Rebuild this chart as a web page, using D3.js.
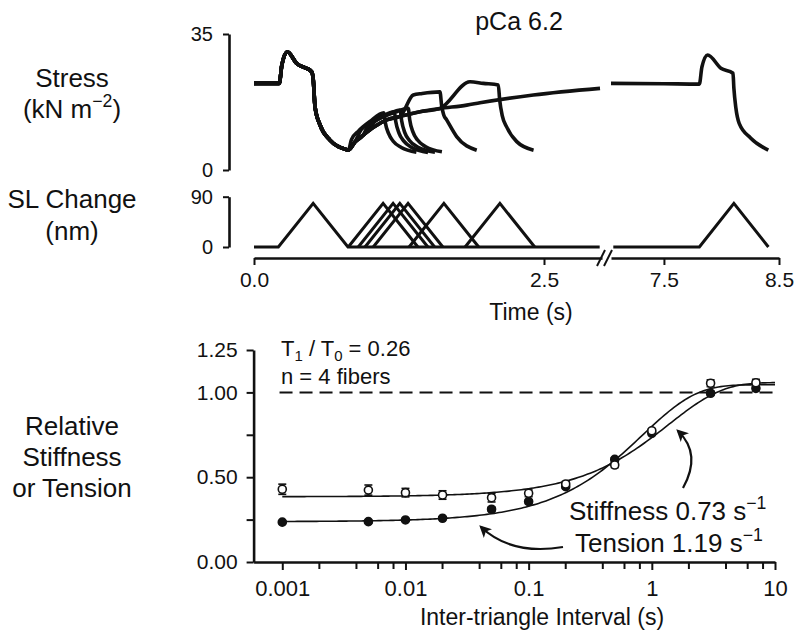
<!DOCTYPE html>
<html>
<head>
<meta charset="utf-8">
<script src="https://cdn.jsdelivr.net/npm/d3@7"></script>
<style>
  body { margin: 0; background: #fff; }
  text { font-family: "Liberation Sans", Arial, sans-serif; fill: #111; }
</style>
</head>
<body>
<div id="chart"></div>
<script>
// ---------- top panel data (time in s, stress in kN m^-2, SL in nm) ----------
const stressBefore = [[0, 22.3], [0.218, 22.3], [0.24, 27], [0.287, 30.4], [0.368, 27.4], [0.497, 25.3],
  [0.511, 23.2], [0.526, 16.3], [0.569, 11.6], [0.655, 7.7], [0.8, 5.2]];
const stressRecovery = [[0.813, 5.1], [0.87, 7.2], [0.942, 9.0], [1.03, 11.0], [1.144, 12.9], [1.259, 13.8],
  [1.431, 15.0], [1.6, 15.8], [1.834, 16.7], [1.948, 17.3], [2.408, 19.3], [2.983, 21.0]];
const stretchStarts = [0.813, 0.899, 0.957, 1.028, 1.337, 1.82];
const stretchResponses = [
  [[0.84, 7.8], [0.9, 10.0], [1.0, 12.5], [1.12, 14.7], [1.132, 12.2], [1.16, 9.4], [1.2, 7.4], [1.27, 5.8], [1.40, 4.6]],
  [[0.925, 10.4], [1.0, 12.0], [1.1, 13.8], [1.21, 15.0], [1.222, 12.5], [1.25, 9.5], [1.29, 7.5], [1.36, 5.8], [1.50, 4.5]],
  [[0.985, 11.5], [1.06, 12.9], [1.16, 14.4], [1.26, 15.4], [1.272, 12.8], [1.30, 9.6], [1.34, 7.6], [1.41, 5.9], [1.56, 4.6]],
  [[1.055, 12.8], [1.13, 13.9], [1.23, 15.0], [1.33, 15.9], [1.342, 13.0], [1.37, 9.8], [1.41, 7.7], [1.48, 6.0], [1.62, 4.7]],
  [[1.373, 19.3], [1.45, 19.7], [1.603, 20.1], [1.618, 16.5], [1.635, 14.2], [1.661, 12.9], [1.747, 8.6], [1.92, 5.1]],
  [[1.862, 22.7], [1.977, 22.3], [2.106, 21.9], [2.118, 18.0], [2.14, 14.0], [2.178, 11.1], [2.265, 7.3], [2.41, 5.1]]
];
const stressLate = [[7.04, 22.3], [7.5, 22.2], [7.808, 22.1], [7.83, 26.5], [7.88, 29.6], [7.995, 26.2], [8.1, 24.9],
  [8.108, 21.0], [8.125, 16.0], [8.154, 12.0], [8.255, 8.2], [8.407, 5.1]];

const slTriangleStarts = [0.21, 0.813, 0.899, 0.957, 1.028, 1.337, 1.82];
const slLateStart = 7.808;
const slPeak = 78;        // nm
const slHalf = 0.3;       // s, stretch (and release) duration

// ---------- bottom panel data ----------
const intervals = [0.001, 0.005, 0.01, 0.02, 0.05, 0.1, 0.2, 0.5, 1, 3, 7];
const stiffness = [0.429, 0.424, 0.409, 0.395, 0.379, 0.405, 0.46, 0.572, 0.774, 1.054, 1.057];
const stiffnessErr = [0.03, 0.03, 0.025, 0.025, 0.025, 0.02, 0.015, 0.015, 0.012, 0.02, 0.02];
const tension = [0.235, 0.238, 0.248, 0.258, 0.311, 0.356, 0.444, 0.605, 0.759, 0.995, 1.024];
const tensionErr = [0.008, 0.008, 0.008, 0.008, 0.012, 0.012, 0.01, 0.01, 0.01, 0.012, 0.015];
// single exponential fits: value = plateau - (plateau - start) * exp(-rate * t)
const fitRates = [0.73, 1.19];           // stiffness, tension (s^-1)
const fitStarts = [0.385, 0.238];
const fitPlateaus = [1.058, 1.045];

const xTickMajor = [0.001, 0.01, 0.1, 1, 10];
const xTickMinor = [2, 4, 6, 8];
const yTicks = [0, 0.25, 0.5, 0.75, 1.0, 1.25];
const yTickLabels = ["0.00", "", "0.50", "", "1.00", "1.25"];

// ---------- svg ----------
const width = 800, height = 639;
const ink = "#111";
const svg = d3.select("#chart").append("svg")
  .attr("width", width)
  .attr("height", height);

const defs = svg.append("defs");
defs.append("marker")
  .attr("id", "head")
  .attr("viewBox", "0 0 10 10")
  .attr("refX", 8).attr("refY", 5)
  .attr("markerWidth", 12).attr("markerHeight", 12)
  .attr("markerUnits", "userSpaceOnUse")
  .attr("orient", "auto")
  .append("path")
  .attr("d", "M0,0 L10,5 L0,10 L2.5,5 Z")
  .attr("fill", ink);

// scales
const tLeft = d3.scaleLinear().domain([0, 3.0]).range([254, 602]);
const tRight = d3.scaleLinear().domain([7.04, 8.5]).range([611, 779]);
const yStress = d3.scaleLinear().domain([0, 35]).range([170, 34]);
const ySL = d3.scaleLinear().domain([0, 90]).range([247, 196.7]);
const xInt = d3.scaleLog().domain([0.000585, 10]).range([253.6, 775]);
const yRel = d3.scaleLinear().domain([0, 1.25]).range([562, 350]);

function styleAxis(g, size) {
  g.select(".domain").attr("stroke", ink).attr("stroke-width", 2.6);
  g.selectAll(".tick line").attr("stroke", ink).attr("stroke-width", 2);
  g.selectAll(".tick text")
    .style("font-family", "'Liberation Sans', Arial, sans-serif")
    .style("font-size", size + "px")
    .attr("fill", ink);
}

function label(x, y, size, anchor, parts) {
  const t = svg.append("text")
    .attr("x", x).attr("y", y)
    .attr("text-anchor", anchor)
    .style("font-size", size + "px");
  let shift = 0;
  parts.forEach(p => {
    const s = t.append("tspan").text(p.t);
    const want = p.sup ? -0.42 * size : p.sub ? 0.22 * size : 0;
    if (want !== shift) { s.attr("dy", want - shift); shift = want; }
    if (p.sup || p.sub) s.style("font-size", (size * 0.68) + "px");
  });
  return t;
}

// ---------- top panel ----------
const lineL = d3.line().x(d => tLeft(d[0])).y(d => yStress(d[1])).curve(d3.curveMonotoneX);
const lineR = d3.line().x(d => tRight(d[0])).y(d => yStress(d[1])).curve(d3.curveMonotoneX);

const traces = stretchStarts.map((s, i) =>
  stressBefore.concat(stressRecovery.filter(d => d[0] <= s)).concat(stretchResponses[i]));
traces.push(stressBefore.concat(stressRecovery));

svg.append("g").selectAll("path")
  .data(traces)
  .join("path")
  .attr("d", lineL)
  .attr("fill", "none")
  .attr("stroke", ink)
  .attr("stroke-width", 3.6)
  .attr("stroke-linejoin", "round");

svg.append("path")
  .attr("d", lineR(stressLate))
  .attr("fill", "none")
  .attr("stroke", ink)
  .attr("stroke-width", 3.6)
  .attr("stroke-linejoin", "round");

// SL triangles
const slLineL = d3.line().x(d => tLeft(d[0])).y(d => ySL(d[1]));
const slLineR = d3.line().x(d => tRight(d[0])).y(d => ySL(d[1]));
const tri = s => [[s, 0], [s + slHalf, slPeak], [s + 2 * slHalf, 0]];
svg.append("path")
  .attr("d", slLineL([[0, 0], ...tri(slTriangleStarts[0]), [2.98, 0]]))
  .attr("fill", "none").attr("stroke", ink).attr("stroke-width", 3).attr("stroke-linejoin", "miter");
svg.append("g").selectAll("path")
  .data(slTriangleStarts.slice(1))
  .join("path")
  .attr("d", s => slLineL(tri(s)))
  .attr("fill", "none").attr("stroke", ink).attr("stroke-width", 3).attr("stroke-linejoin", "miter");
svg.append("path")
  .attr("d", slLineR([[7.06, 0], ...tri(slLateStart)]))
  .attr("fill", "none").attr("stroke", ink).attr("stroke-width", 3).attr("stroke-linejoin", "miter");

// top brackets
const gStress = svg.append("g").attr("transform", "translate(229,0)")
  .call(d3.axisLeft(yStress).tickValues([0, 35]).tickSize(6).tickSizeOuter(0).tickPadding(10));
styleAxis(gStress, 20);
const gSL = svg.append("g").attr("transform", "translate(229,0)")
  .call(d3.axisLeft(ySL).tickValues([0, 90]).tickSize(6).tickSizeOuter(0).tickPadding(10));
styleAxis(gSL, 20);

// time axis with break
const gTL = svg.append("g").attr("transform", "translate(0,258)")
  .call(d3.axisBottom(tLeft).tickValues([0, 2.5]).tickFormat(d3.format(".1f")).tickSize(7).tickSizeOuter(0).tickPadding(7));
styleAxis(gTL, 21);
const gTR = svg.append("g").attr("transform", "translate(0,258)")
  .call(d3.axisBottom(tRight).tickValues([7.5, 8.5]).tickFormat(d3.format(".1f")).tickSize(7).tickSizeOuter(0).tickPadding(7));
styleAxis(gTR, 21);
[tLeft(3.0) - 1, tRight(7.04) - 3].forEach(x => {
  svg.append("line")
    .attr("x1", x - 4).attr("y1", 266).attr("x2", x + 4).attr("y2", 250)
    .attr("stroke", ink).attr("stroke-width", 2);
});

label(531, 320, 23, "middle", [{ t: "Time (s)" }]);
label(519, 30, 25, "middle", [{ t: "pCa 6.2" }]);

// left labels
label(72, 87, 26, "middle", [{ t: "Stress" }]);
label(72, 118, 26, "middle", [{ t: "(kN m" }, { t: "−2", sup: true }, { t: ")" }]);
label(72, 208, 26, "middle", [{ t: "SL Change" }]);
label(72, 240, 26, "middle", [{ t: "(nm)" }]);
label(72, 435, 26, "middle", [{ t: "Relative" }]);
label(72, 466, 26, "middle", [{ t: "Stiffness" }]);
label(72, 497, 26, "middle", [{ t: "or Tension" }]);

// ---------- bottom panel ----------
const gX = svg.append("g").attr("transform", `translate(0,${yRel(0)})`)
  .call(d3.axisBottom(xInt).tickValues(xTickMajor).tickFormat(d3.format("~g")).tickSize(8).tickSizeOuter(0).tickPadding(10));
styleAxis(gX, 22);
const minorVals = xTickMajor.slice(0, -1).flatMap(m => xTickMinor.map(k => m * k));
svg.append("g").selectAll("line")
  .data(minorVals)
  .join("line")
  .attr("x1", d => xInt(d)).attr("x2", d => xInt(d))
  .attr("y1", yRel(0)).attr("y2", yRel(0) + 7)
  .attr("stroke", ink).attr("stroke-width", 2);

const gY = svg.append("g").attr("transform", `translate(${xInt.range()[0]},0)`)
  .call(d3.axisLeft(yRel).tickValues(yTicks).tickFormat((d, i) => yTickLabels[i]).tickSize(7).tickSizeOuter(0).tickPadding(9));
styleAxis(gY, 21);

label(542, 625, 23, "middle", [{ t: "Inter-triangle Interval (s)" }]);

// dashed reference at 1.0
svg.append("line")
  .attr("x1", xInt(0.00095)).attr("x2", xInt(10))
  .attr("y1", yRel(1)).attr("y2", yRel(1))
  .attr("stroke", ink).attr("stroke-width", 2)
  .attr("stroke-dasharray", "13,7");

// fitted curves
const fitT = d3.range(0, 201).map(i => Math.pow(10, -3 + 4 * i / 200));
const fitLine = d3.line().x(d => xInt(d[0])).y(d => yRel(d[1]));
fitRates.forEach((k, j) => {
  const pts = fitT.map(t => [t, fitPlateaus[j] - (fitPlateaus[j] - fitStarts[j]) * Math.exp(-k * t)]);
  svg.append("path")
    .attr("d", fitLine(pts))
    .attr("fill", "none").attr("stroke", ink).attr("stroke-width", 1.6);
});

// error bars + points
function series(vals, errs, filled) {
  const g = svg.append("g");
  const rows = intervals.map((x, i) => ({ x, v: vals[i], e: errs[i] }));
  g.selectAll("line.bar").data(rows).join("line").attr("class", "bar")
    .attr("x1", d => xInt(d.x)).attr("x2", d => xInt(d.x))
    .attr("y1", d => yRel(d.v - d.e)).attr("y2", d => yRel(d.v + d.e))
    .attr("stroke", ink).attr("stroke-width", 1.6);
  ["lo", "hi"].forEach(side => {
    g.selectAll("line." + side).data(rows).join("line").attr("class", side)
      .attr("x1", d => xInt(d.x) - 4).attr("x2", d => xInt(d.x) + 4)
      .attr("y1", d => yRel(side === "lo" ? d.v - d.e : d.v + d.e))
      .attr("y2", d => yRel(side === "lo" ? d.v - d.e : d.v + d.e))
      .attr("stroke", ink).attr("stroke-width", 1.6);
  });
  g.selectAll("circle").data(rows).join("circle")
    .attr("cx", d => xInt(d.x)).attr("cy", d => yRel(d.v))
    .attr("r", 4)
    .attr("fill", filled ? ink : "#fff")
    .attr("stroke", ink).attr("stroke-width", 1.6);
}
series(tension, tensionErr, true);
series(stiffness, stiffnessErr, false);

// annotations
label(281, 356, 22, "start", [{ t: "T" }, { t: "1", sub: true }, { t: " / T" }, { t: "0", sub: true }, { t: " = 0.26" }]);
label(281, 384, 22, "start", [{ t: "n = 4 fibers" }]);
label(569, 520, 26, "start", [{ t: "Stiffness 0.73 s" }, { t: "−1", sup: true }]);
label(575, 552, 26, "start", [{ t: "Tension 1.19 s" }, { t: "−1", sup: true }]);

svg.append("path")
  .attr("d", "M683,488 Q702,454 678,431")
  .attr("fill", "none").attr("stroke", ink).attr("stroke-width", 2.2)
  .attr("marker-end", "url(#head)");
svg.append("path")
  .attr("d", "M563,547 C527,553 500,545 481,527")
  .attr("fill", "none").attr("stroke", ink).attr("stroke-width", 2.2)
  .attr("marker-end", "url(#head)");
</script>
</body>
</html>
